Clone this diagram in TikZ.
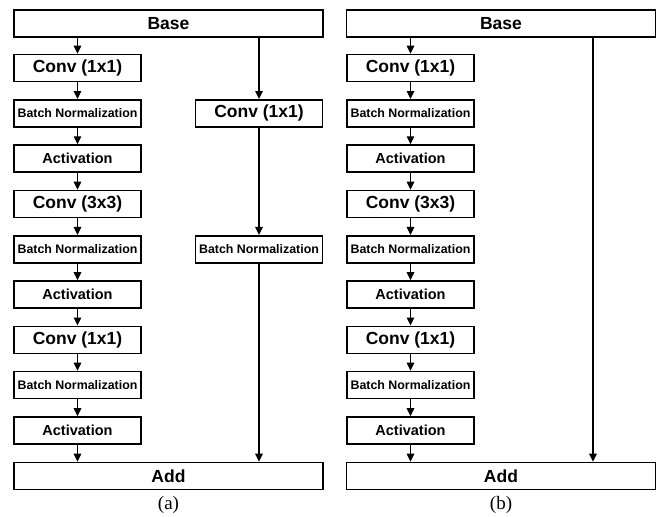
\documentclass[tikz,border=0pt]{standalone}
\usepackage{fontspec}
\setmainfont{Liberation Serif}
\setsansfont{Liberation Sans}
\usetikzlibrary{arrows.meta}
\begin{document}
\begin{tikzpicture}[x=1pt,y=-1pt,
  blk/.style={draw, line width=1.6pt, minimum height=27pt, inner sep=0pt,
              font=\sffamily\bfseries\fontsize{17.5}{18}\selectfont},
  wide/.style={blk, minimum width=309pt},
  narrow/.style={blk, minimum width=127pt},
  bn/.style={narrow, font=\sffamily\bfseries\fontsize{12.4}{13}\selectfont},
  act/.style={narrow, font=\sffamily\bfseries\fontsize{14.5}{15}\selectfont},
  arr/.style={line width=1.4pt, -{Triangle[length=8pt,width=7.5pt]}},
  sublabel/.style={font=\fontsize{19}{19}\selectfont}]
\useasboundingbox (0,0) rectangle (659,517);

% two panels: (a) with a projection shortcut, (b) with an identity shortcut
\foreach \p/\bx/\cx in {a/168.5/77.5, b/501/410.5} {
  \node[wide] (\p0) at (\bx,23.5) {Base};
  \node[narrow] (\p1) at (\cx,68) {Conv (1x1)};
  \node[bn]     (\p2) at (\cx,113.3) {Batch Normalization};
  \node[act]    (\p3) at (\cx,158.6) {Activation};
  \node[narrow] (\p4) at (\cx,204) {Conv (3x3)};
  \node[bn]     (\p5) at (\cx,249.2) {Batch Normalization};
  \node[act]    (\p6) at (\cx,294.5) {Activation};
  \node[narrow] (\p7) at (\cx,339.8) {Conv (1x1)};
  \node[bn]     (\p8) at (\cx,385) {Batch Normalization};
  \node[act]    (\p9) at (\cx,430.4) {Activation};
  \node[wide]   (\p10) at (\bx,476) {Add};
  \node[sublabel] (\p lbl) at (\bx,505) {(\p)};
  % main path
  \draw[arr] (\p1.north |- \p0.south) -- (\p1.north);
  \foreach \i [evaluate=\i as \j using int(\i+1)] in {1,...,8}
    \draw[arr] (\p\i) -- (\p\j);
  \draw[arr] (\p9) -- (\p9.south |- \p10.north);
}

% shortcut of (a): Conv (1x1) + Batch Normalization
\node[narrow] (ra1) at (259,113.3) {Conv (1x1)};
\node[bn]     (ra2) at (259,249.2) {Batch Normalization};
\draw[arr] (ra1.north |- a0.south) -- (ra1.north);
\draw[arr] (ra1) -- (ra2);
\draw[arr] (ra2) -- (ra2.south |- a10.north);

% shortcut of (b): identity
\coordinate (rb) at (593,250);
\draw[arr] (rb |- b0.south) -- (rb |- b10.north);
\end{tikzpicture}
\end{document}
